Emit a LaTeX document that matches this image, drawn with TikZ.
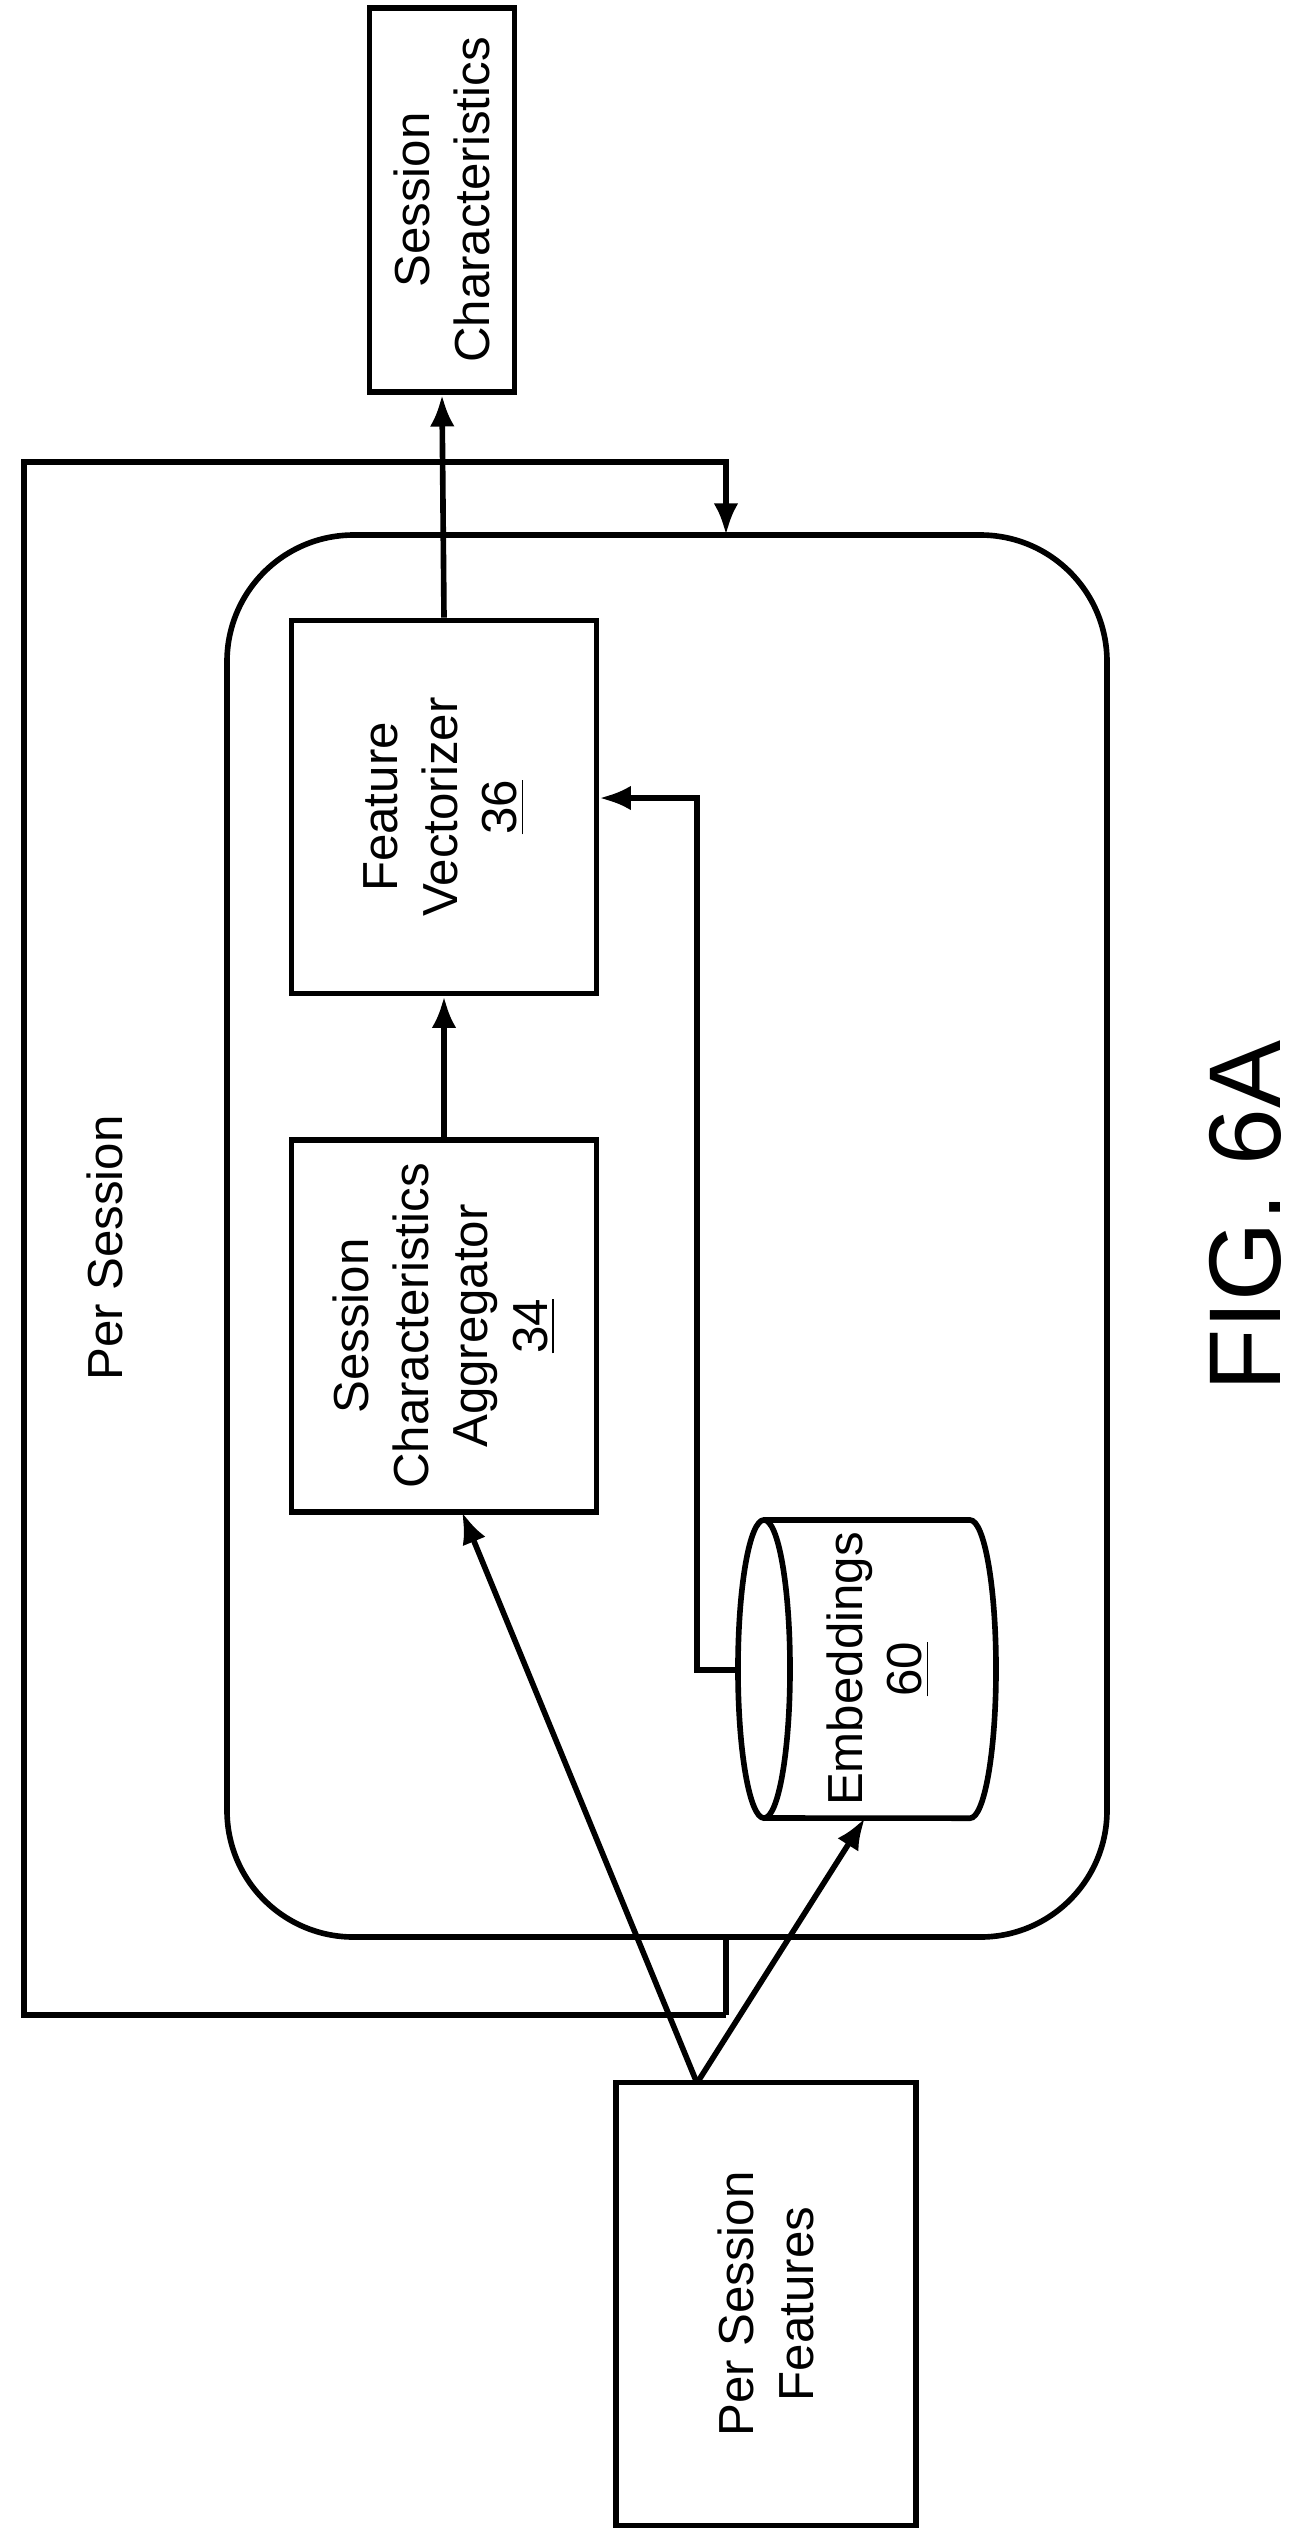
\documentclass[tikz,border=0pt]{standalone}
\usepackage{fontspec}
\setmainfont{Liberation Sans}
\usetikzlibrary{arrows.meta}
\begin{document}
\begin{tikzpicture}[x=0.01cm,y=-0.01cm,line width=1.6pt,
  box/.style={draw,line width=1.6pt},
  lbl/.style={rotate=90,align=center,font=\fontsize{14}{17}\selectfont},
  arr/.style={-{Latex[length=9pt,width=7pt]}}]
\useasboundingbox (0,0) rectangle (1297,2538);
\draw[line width=1.6pt,rounded corners=36pt] (227,535) rectangle (1107,1937);
\node[box,minimum width=145*0.01cm,minimum height=384*0.01cm] (sc) at (442,200) {};
\node[lbl] at (sc) {Session\\Characteristics};
\node[box,minimum width=305*0.01cm,minimum height=373*0.01cm] (fv) at (444,807) {};
\node[lbl] at (fv) {Feature\\Vectorizer\\\underline{36}};
\node[box,minimum width=305*0.01cm,minimum height=372*0.01cm] (ag) at (444,1326) {};
\node[lbl] at (ag) {Session\\Characteristics\\Aggregator\\\underline{34}};
\node[box,minimum width=300*0.01cm,minimum height=443*0.01cm] (psf) at (766,2304) {};
\node[lbl] at (psf) {Per Session\\Features};
% cylinder
\draw (764,1520) -- (970,1520) arc[start angle=90,end angle=-90,x radius=0.26cm,y radius=1.49cm] -- (764,1818);
\draw (764,1669) ellipse[x radius=0.26cm,y radius=1.49cm];
\node[lbl] (emb) at (878,1669) {Embeddings\\\underline{60}};
\coordinate (embl) at (738,1670);
\coordinate (embb) at (865,1818);
\coordinate (c1) at (697,1670);
\coordinate (c2) at (697,798);
\coordinate (ps0) at (697,2083);
\node[lbl] (ps) at (105,1248) {Per Session};
\node[rotate=90,font=\fontsize{29}{34}\selectfont] (fig) at (1245,1216) {FIG. 6A};
% loop
\coordinate (l1) at (726,535);
\coordinate (l2) at (726,1937);
\draw[arr] (726,2015) -- (24,2015) -- (24,462) -- (726,462) -- (l1);
\draw (726,2015) -- (l2);
\draw[arr] (fv.north) -- (sc.south);
\draw[arr] (ag.north) -- (fv.south);
\draw[arr] (embl) -- (c1) -- (c2) -- (fv.east |- c2);
\draw[arr] (ps0) -- (462,1512);
\draw[arr] (ps0) -- (embb);
\end{tikzpicture}
\end{document}
